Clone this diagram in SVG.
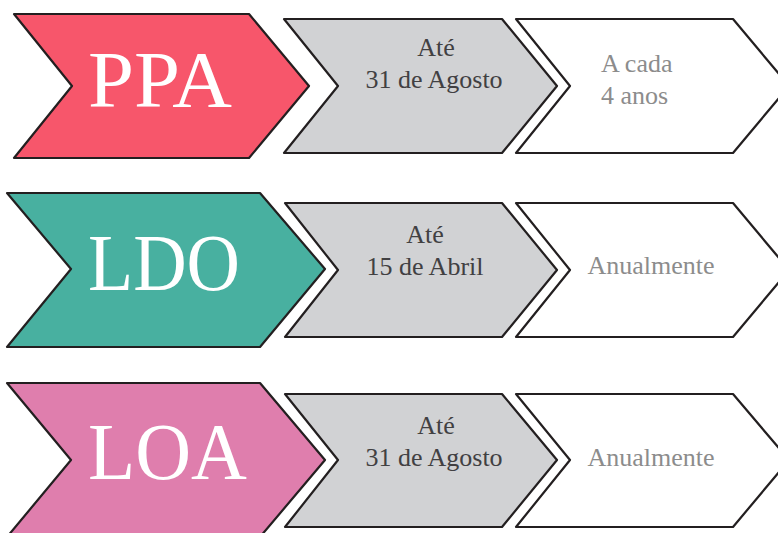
<svg xmlns="http://www.w3.org/2000/svg" width="778" height="533" viewBox="0 0 778 533">
<style>
.sh{stroke:#231F20;stroke-width:2.2;stroke-linejoin:round}
.big{font-family:"Liberation Serif","Times New Roman",serif;font-size:80px;fill:#FFFFFF}
.dk{font-family:"Liberation Serif","Times New Roman",serif;font-size:26px;fill:#414042;text-anchor:middle}
.lt{font-family:"Liberation Serif","Times New Roman",serif;font-size:26px;fill:#8C8C8C}
</style>
<rect width="778" height="533" fill="#FFFFFF"/>
<g id="ppa">
<path class="sh" d="M14,14 L249,14 L309,86 L249,158 L14,158 L72,86 Z" fill="#F7566B"/>
<text class="big" x="88" y="107" textLength="144" lengthAdjust="spacingAndGlyphs">PPA</text>
</g>
<g id="ppa-prazo">
<path class="sh" d="M284,19 L502,19 L557,86 L502,153 L284,153 L338,86 Z" fill="#D1D2D4"/>
<text class="dk" x="436" y="56">Até</text>
<text class="dk" x="434" y="88">31 de Agosto</text>
</g>
<g id="ppa-freq">
<path class="sh" d="M516,19 L733,19 L789,86 L733,153 L516,153 L570,86 Z" fill="#FFFFFF"/>
<text class="lt" x="601" y="72">A cada</text>
<text class="lt" x="601" y="104">4 anos</text>
</g>
<g id="ldo">
<path class="sh" d="M7,193 L260,193 L325,269 L260,347 L7,347 L71,269 Z" fill="#48B0A0"/>
<text class="big" x="88" y="290" textLength="152" lengthAdjust="spacingAndGlyphs">LDO</text>
</g>
<g id="ldo-prazo">
<path class="sh" d="M285,203 L502,203 L557,270 L502,337 L285,337 L338,270 Z" fill="#D1D2D4"/>
<text class="dk" x="425" y="243">Até</text>
<text class="dk" x="425" y="275">15 de Abril</text>
</g>
<g id="ldo-freq">
<path class="sh" d="M516,203 L733,203 L789,270 L733,337 L516,337 L570,270 Z" fill="#FFFFFF"/>
<text class="lt" x="651" y="274" text-anchor="middle">Anualmente</text>
</g>
<g id="loa">
<path class="sh" d="M7,383 L260,383 L325,460 L260,537 L7,537 L71,460 Z" fill="#DF7EAD"/>
<text class="big" x="88" y="479" textLength="159" lengthAdjust="spacingAndGlyphs">LOA</text>
</g>
<g id="loa-prazo">
<path class="sh" d="M285,394 L502,394 L557,460 L502,527 L285,527 L338,460 Z" fill="#D1D2D4"/>
<text class="dk" x="436" y="434">Até</text>
<text class="dk" x="434" y="466">31 de Agosto</text>
</g>
<g id="loa-freq">
<path class="sh" d="M516,394 L733,394 L789,460 L733,527 L516,527 L570,460 Z" fill="#FFFFFF"/>
<text class="lt" x="651" y="466" text-anchor="middle">Anualmente</text>
</g>
<g id="connectors"></g>
</svg>
